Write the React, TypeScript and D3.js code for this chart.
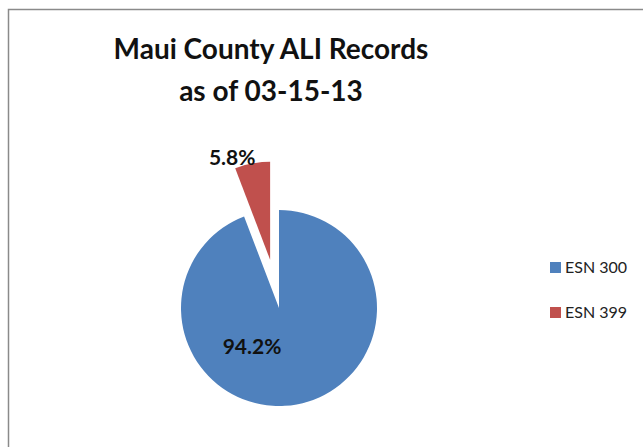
import React from "react";
import * as d3 from "d3";

const categories = ["ESN 300", "ESN 399"];
const values = [94.2, 5.8];
const colors = ["#4F81BD", "#C0504D"];
const titleLines = ["Maui County ALI Records", "as of 03-15-13"];

const W = 643;
const H = 447;

export default function App() {
  const cx = 279;
  const cy = 308;
  const r = 98;
  const explode = [0, 49];

  const pie = d3.pie<number>().sort(null).value((d) => d).startAngle(0).endAngle(2 * Math.PI);
  const arcs = pie(values);
  const arc = d3.arc<d3.PieArcDatum<number>>().innerRadius(0).outerRadius(r);

  const fmt = (v: number) => v.toFixed(1) + "%";

  const labelPos = (i: number, a: d3.PieArcDatum<number>) => {
    if (i === 0) {
      return [-27, 46];
    }
    const mid = (a.startAngle + a.endAngle) / 2 - 0.17;
    const d = 110;
    return [Math.sin(mid) * d, -Math.cos(mid) * d + 8];
  };

  return (
    <svg
      width={W}
      height={H}
      style={{ position: "absolute", left: 0, top: 0, background: "#fff" }}
      fontFamily="Lato, 'Open Sans', sans-serif"
    >
      <rect x={8.5} y={9.5} width={W + 20} height={H + 20} fill="#fff" stroke="#8a8a8a" strokeWidth={1.5} />
      {titleLines.map((t, i) => (
        <text
          key={i}
          x={271}
          y={59 + i * 42}
          textAnchor="middle"
          fontSize={28}
          fontWeight="bold"
          fill="#111"
        >
          {t}
        </text>
      ))}
      {arcs.map((a, i) => {
        const mid = (a.startAngle + a.endAngle) / 2;
        const dx = Math.sin(mid) * explode[i];
        const dy = -Math.cos(mid) * explode[i];
        const [lx, ly] = labelPos(i, a);
        return (
          <g key={i} transform={`translate(${cx + dx},${cy + dy})`}>
            <path d={arc(a) || ""} fill={colors[i]} />
            <text
              x={lx}
              y={ly}
              textAnchor="middle"
              fontSize={21}
              fontWeight="bold"
              fill="#111"
            >
              {fmt(values[i])}
            </text>
          </g>
        );
      })}
      {categories.map((c, i) => (
        <g key={c} transform={`translate(550,${262 + i * 45})`}>
          <rect width={11} height={11} fill={colors[i]} />
          <text x={15} y={11} fontSize={16} fill="#222">
            {c}
          </text>
        </g>
      ))}
    </svg>
  );
}
